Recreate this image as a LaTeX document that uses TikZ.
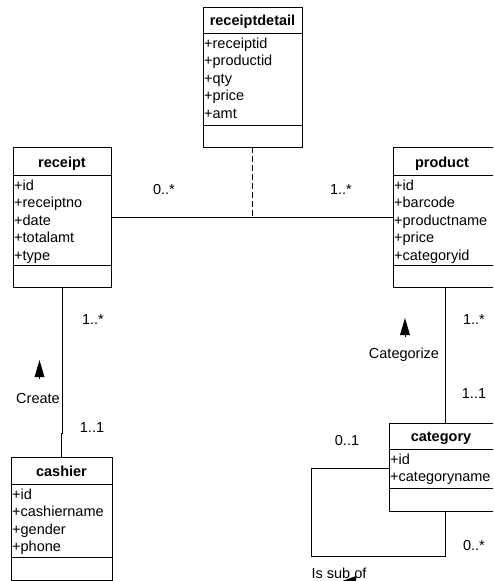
\documentclass[tikz,border=0pt]{standalone}
\usepackage{fontspec}
\setmainfont{Liberation Sans}
\usetikzlibrary{calc}
\begin{document}
\begin{tikzpicture}[x=1pt,y=-1pt,
  cls/.style={draw, line width=0.9pt, inner sep=0pt, outer sep=0pt, anchor=north west},
  sep/.style={line width=0.9pt},
  ttl/.style={font=\fontsize{14.5}{17}\selectfont\bfseries, anchor=base, inner sep=0pt},
  attr/.style={font=\fontsize{14.5}{17}\selectfont, anchor=base west, inner sep=0pt},
  lbl/.style={font=\fontsize{14.5}{17}\selectfont, inner sep=0pt},
  conn/.style={line width=0.8pt},
  dconn/.style={line width=0.8pt, dash pattern=on 6pt off 3pt},
  tri/.style={fill=black}]
\useasboundingbox (0,0) rectangle (493,581);
\clip (0,0) rectangle (493,581);

% receiptdetail
\node[cls, minimum width=99pt, minimum height=140pt] (rd) at (203,7) {};
\draw[sep] (203,33) -- (302,33);
\draw[sep] (203,125) -- (302,125);
\node[ttl] (rdt) at (252.5,25) {receiptdetail};
\foreach \t [count=\i from 0] in {+receiptid,+productid,+qty,+price,+amt}
  \node[attr] (rda\i) at (204,48+17.5*\i) {\t};

% receipt
\node[cls, minimum width=98pt, minimum height=140pt] (receipt) at (13,147) {};
\draw[sep] (13,175) -- (111,175);
\draw[sep] (13,265) -- (111,265);
\node[ttl] (rct) at (62,167) {receipt};
\foreach \t [count=\i from 0] in {+id,+receiptno,+date,+totalamt,+type}
  \node[attr] (rca\i) at (14,190+17.5*\i) {\t};

% product
\node[cls, minimum width=104pt, minimum height=140pt] (product) at (393,147) {};
\draw[sep] (393,175) -- (497,175);
\draw[sep] (393,265) -- (497,265);
\node[ttl] (prt) at (442,167) {product};
\foreach \t [count=\i from 0] in {+id,+barcode,+productname,+price,+categoryid}
  \node[attr] (pra\i) at (394,190+17.5*\i) {\t};

% cashier
\node[cls, minimum width=101pt, minimum height=123pt] (cashier) at (11,457) {};
\draw[sep] (11,484) -- (112,484);
\draw[sep] (11,557) -- (112,557);
\node[ttl] (cat) at (61.5,476) {cashier};
\foreach \t [count=\i from 0] in {+id,+cashiername,+gender,+phone}
  \node[attr] (caa\i) at (12,499+17.5*\i) {\t};

% category
\node[cls, minimum width=112pt, minimum height=88pt] (category) at (389,423) {};
\draw[sep] (389,449) -- (501,449);
\draw[sep] (389,488) -- (501,488);
\node[ttl] (cgt) at (441,441) {category};
\foreach \t [count=\i from 0] in {+id,+categoryname}
  \node[attr] (cga\i) at (390,464+17.5*\i) {\t};

% receipt -- product with association class
\draw[conn] (receipt) -- (product);
\coordinate (mid) at ($(receipt.east)!0.5!(product.west)$);
\draw[dconn] (rd.south) -- (rd.south |- mid);
\node[lbl] (l1) at (164,190) {0..*};
\node[lbl] (l2) at (341,190) {1..*};

% receipt -- cashier
\coordinate (jog) at (62,433);
\draw[conn] (receipt.south) -- (receipt.south |- jog) -- (cashier.north |- jog) -- (cashier.north);
\node[lbl] (l3) at (93,320) {1..*};
\node[lbl] (l4) at (92,428) {1..1};
\node[lbl] (l5) at (38,399) {Create};
\fill[tri] (39.5,360) -- (44.5,377) -- (34.5,377) -- cycle;
\draw[line width=0.8pt] (39.5,376) -- (39.5,379);

% product -- category
\draw[conn] (product.south) -- (category.north);
\node[lbl] (l6) at (474,320) {1..*};
\node[lbl] (l7) at (474,394) {1..1};
\node[lbl] (l8) at (404,355) {Categorize};
\fill[tri] (405,318) -- (410,335) -- (400,335) -- cycle;
\draw[line width=0.8pt] (405,334) -- (405,337);

% self association
\coordinate (la) at (311,468);
\coordinate (lb) at (311,556);
\draw[conn] (category.west |- la) -- (la) -- (lb) -- (category.south |- lb) -- (category.south);
\node[lbl] (l9) at (347,441) {0..1};
\node[lbl] (l10) at (474,546) {0..*};
\node[lbl] (l11) at (339,573) {Is sub of};
\fill[tri] (337,583) -- (356,576) -- (356,590) -- cycle;
\end{tikzpicture}
\end{document}
